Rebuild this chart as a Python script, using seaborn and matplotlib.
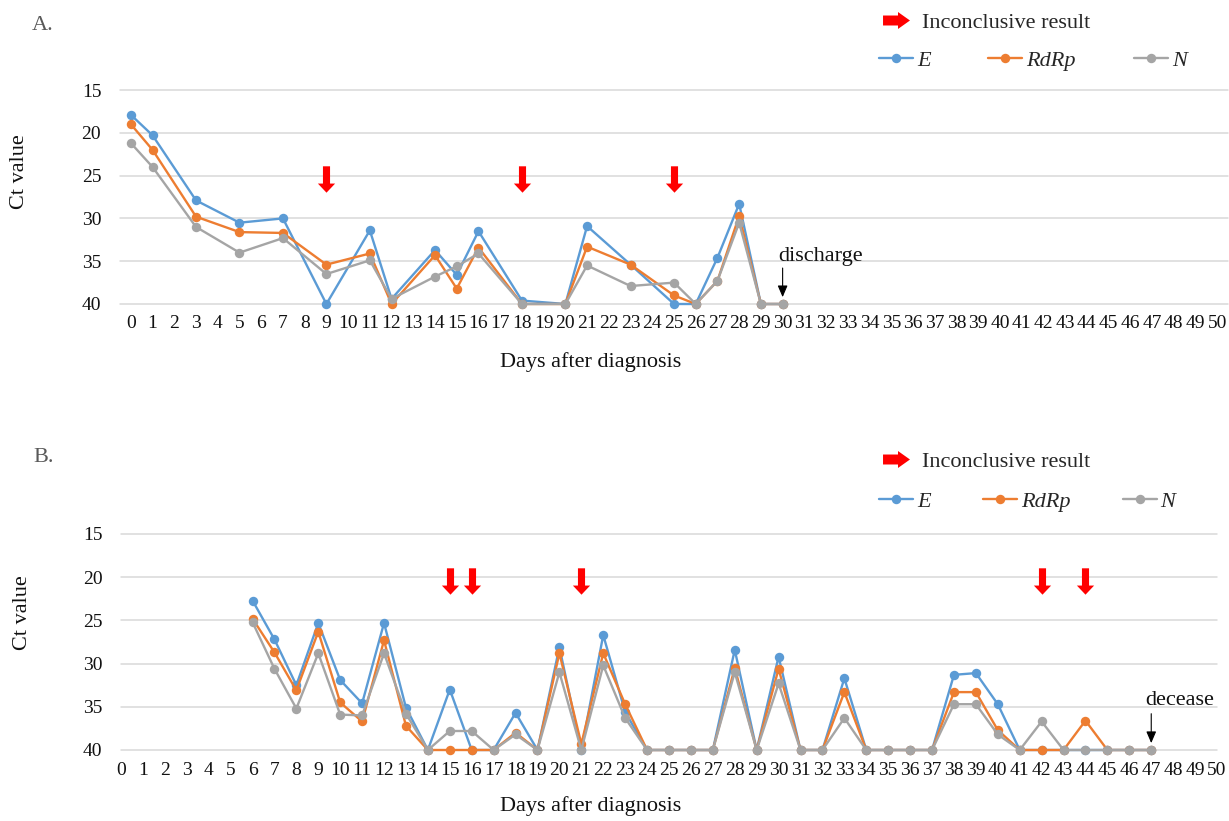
import matplotlib
matplotlib.use('Agg')
import pandas as pd
import matplotlib.pyplot as plt
import seaborn as sns
from matplotlib.path import Path
from matplotlib.lines import Line2D

sns.set_style('white')
plt.rcParams['font.family'] = ['Liberation Serif', 'DejaVu Serif']

# ---- data ----
genes = ['E', 'RdRp', 'N']
colors = ['#5B9BD5', '#ED7D31', '#A5A5A5']
ticks_x = list(range(0, 51))
ticks_y = [15, 20, 25, 30, 35, 40]

days_a = [0, 1, 3, 5, 7, 9, 11, 12, 14, 15, 16, 18, 20, 21, 23, 25, 26, 27, 28, 29, 30]
e_a = [17.9, 20.3, 27.9, 30.5, 30.0, 40.0, 31.4, 39.4, 33.7, 36.6, 31.5, 39.6, 40.0, 30.9, 35.4, 40.0, 40.0, 34.6, 28.3, 40.0, 40.0]
rdrp_a = [19.0, 22.0, 29.8, 31.6, 31.7, 35.4, 34.1, 40.0, 34.3, 38.2, 33.4, 40.0, 40.0, 33.3, 35.4, 39.0, 40.0, 37.3, 29.7, 40.0, 40.0]
n_a = [21.2, 24.0, 31.0, 34.0, 32.3, 36.5, 34.9, 39.4, 36.8, 35.6, 34.1, 40.0, 40.0, 35.5, 37.9, 37.5, 40.0, 37.3, 30.5, 40.0, 40.0]
inconclusive_a = [9, 18, 25]

days_b = list(range(6, 48))
e_b = [22.7, 27.2, 32.5, 25.3, 31.9, 34.6, 25.3, 35.1, 40, 33.0, 40, 40, 35.7, 40, 28.1, 40, 26.7, 35.6,
       40, 40, 40, 40, 28.4, 40, 29.2, 40, 40, 31.7, 40, 40, 40, 40, 31.3, 31.1, 34.7, 40, 40, 40, 40, 40, 40, 40]
rdrp_b = [24.8, 28.7, 33.1, 26.3, 34.5, 36.7, 27.3, 37.2, 40, 40, 40, 40, 38.0, 40, 28.8, 39.3, 28.8, 34.7,
          40, 40, 40, 40, 30.5, 40, 30.6, 40, 40, 33.3, 40, 40, 40, 40, 33.3, 33.3, 37.7, 40, 40, 40, 36.6, 40, 40, 40]
n_b = [25.2, 30.6, 35.2, 28.8, 35.9, 36.0, 28.8, 35.8, 40, 37.8, 37.8, 40, 38.2, 40, 31.0, 40, 30.2, 36.3,
       40, 40, 40, 40, 31.0, 40, 32.3, 40, 40, 36.3, 40, 40, 40, 40, 34.7, 34.7, 38.2, 40, 36.7, 40, 40, 40, 40, 40]
inconclusive_b = [15, 16, 21, 42, 44]

W, H = 1229, 821

# block arrow markers
down_arrow = Path([(-3.5, 13), (3.5, 13), (3.5, -4), (8.5, -4), (0, -13), (-8.5, -4), (-3.5, -4), (-3.5, 13)],
                  [Path.MOVETO] + [Path.LINETO] * 6 + [Path.CLOSEPOLY])
right_arrow = Path([(-13.5, -5), (1.5, -5), (1.5, -8.5), (13.5, 0), (1.5, 8.5), (1.5, 5), (-13.5, 5), (-13.5, -5)],
                   [Path.MOVETO] + [Path.LINETO] * 6 + [Path.CLOSEPOLY])


def long_df(days, e, rdrp, n):
    return pd.DataFrame({
        'day': days * 3,
        'ct': e + rdrp + n,
        'gene': ['E'] * len(days) + ['RdRp'] * len(days) + ['N'] * len(days),
    })


def panel(rect, df, xlim, inconclusive, arrow_y, note, note_day, note_xy, label, label_xy,
          ylab_xy, xlab_xy, leg_y, inc_y, colspace, xpad):
    ax = fig.add_axes([rect[0] / W, 1 - rect[3] / H, (rect[1] - rect[0]) / W, (rect[3] - rect[2]) / H])
    sns.lineplot(data=df, x='day', y='ct', hue='gene', hue_order=genes, palette=colors,
                 marker='o', markersize=6.8, markeredgewidth=0, linewidth=1.7,
                 sort=False, errorbar=None, legend=False, ax=ax)
    for ln in ax.lines:
        ln.set_clip_on(False)
    ax.plot(inconclusive, [arrow_y] * len(inconclusive), ls='none', marker=down_arrow,
            markersize=19, color='#FF0000', mew=0, clip_on=False)

    ax.set_xlim(*xlim)
    ax.set_ylim(40, 15)
    ax.set_xticks(ticks_x)
    ax.set_yticks(ticks_y)
    ax.yaxis.grid(True, color='#D9D9D9', lw=1.1)
    ax.xaxis.grid(False)
    for gl in ax.get_ygridlines():
        gl.set_clip_on(False)
    sns.despine(ax=ax, left=True, bottom=True)
    ax.tick_params(axis='both', length=0, labelsize=14, colors='#111111')
    ax.tick_params(axis='y', pad=13.5)
    ax.tick_params(axis='x', pad=xpad)
    ax.set_xlabel('')
    ax.set_ylabel('')

    # end-of-follow-up note
    ax.annotate('', xy=(note_day, 39.2), xytext=(note_day, 35.8),
                arrowprops=dict(arrowstyle='-|>,head_length=0.7,head_width=0.3', color='black',
                                lw=0.8, shrinkA=0, shrinkB=0, mutation_scale=10))
    ax.text(note_xy[0], note_xy[1], note, fontsize=16, ha='left', va='baseline', color='#111111')

    fig.text(label_xy[0] / W, 1 - label_xy[1] / H, label, fontsize=16, color='#595959',
             ha='left', va='center')
    fig.text(ylab_xy[0] / W, 1 - ylab_xy[1] / H, 'Ct value', fontsize=16, rotation=90,
             ha='center', va='center', color='#111111')
    fig.text(xlab_xy[0] / W, 1 - xlab_xy[1] / H, 'Days after diagnosis', fontsize=16,
             ha='center', va='center', color='#111111')

    handles = [Line2D([], [], color=c, marker='o', markersize=6.8, mew=0, lw=1.7) for c in colors]
    fig.legend(handles, genes, ncol=3, loc='center left', bbox_to_anchor=(879 / W, 1 - leg_y / H),
               frameon=False, borderpad=0, borderaxespad=0, handlelength=1.53, handletextpad=0.18,
               columnspacing=colspace, prop=dict(family='Liberation Serif', style='italic', size=16))
    inc = Line2D([], [], ls='none', marker=right_arrow, markersize=19.4, color='#FF0000', mew=0)
    fig.legend([inc], ['Inconclusive result'], loc='center left', bbox_to_anchor=(882 / W, 1 - inc_y / H),
               frameon=False, borderpad=0, borderaxespad=0, handlelength=1.26, handletextpad=0.54,
               prop=dict(family='Liberation Serif', size=16))
    return ax


fig = plt.figure(figsize=(W / 100, H / 100), dpi=100)

panel((120, 1228, 90, 304), long_df(days_a, e_a, rdrp_a, n_a), (-0.5, 50.5), inconclusive_a, 25.36,
      'discharge', 30, (29.79, 34.95), 'A.', (32, 25.5), (20, 172), (591, 362), 61, 22.7, 2.6, 8)
panel((121, 1217, 534, 750), long_df(days_b, e_b, rdrp_b, n_b), (0, 50), inconclusive_b, 20.4,
      'decease', 47, (46.74, 34.8), 'B.', (33, 457.5), (22.5, 612.5), (591, 806), 501.7, 461.7, 2.35, 8.5)

fig.savefig('out.png', dpi=100)
